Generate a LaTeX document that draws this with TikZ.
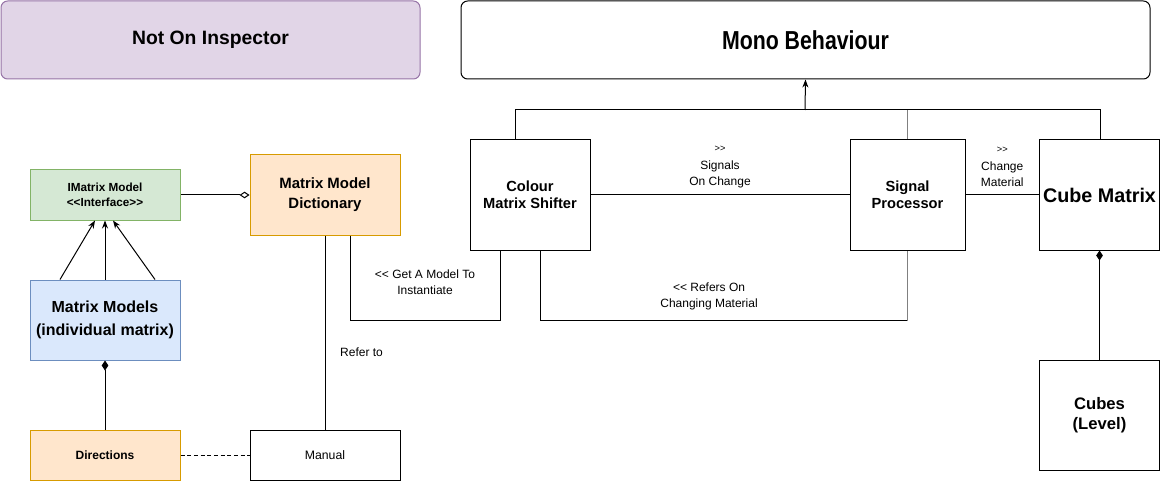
\documentclass[tikz,border=0pt]{standalone}
\usepackage{fontspec}
\setmainfont{Liberation Sans}
\newfontfamily\narrowsans[FakeStretch=0.82]{Liberation Sans}
\usetikzlibrary{arrows.meta,calc}
\definecolor{purplefill}{HTML}{E1D5E7}
\definecolor{purpleline}{HTML}{9673A6}
\definecolor{greenfill}{HTML}{D5E8D4}
\definecolor{greenline}{HTML}{82B366}
\definecolor{orangefill}{HTML}{FFE6CC}
\definecolor{orangeline}{HTML}{D79B00}
\definecolor{bluefill}{HTML}{DAE8FC}
\definecolor{blueline}{HTML}{6C8EBF}
\definecolor{linegray}{HTML}{808080}

\begin{document}
\begin{tikzpicture}[x=0.75pt,y=-0.75pt,line width=0.75pt,
    box/.style={draw, align=center, inner sep=1pt, font=\bfseries},
    lbl/.style={align=center, inner sep=0pt, font=\fontsize{9}{12}\selectfont},
    inherit/.style={-{Stealth[length=6pt,width=4.5pt]}},
    holds/.style={{Diamond[open,length=7.5pt,width=5pt]}-},
    owns/.style={{Diamond[length=7.5pt,width=5pt]}-}]
  \useasboundingbox (0,0) rectangle (1160,481);

  \node[box, rounded corners=5pt, fill=purplefill, draw=purpleline, minimum width=314.25pt, minimum height=58.5pt,
        font=\bfseries\fontsize{14.5}{17}\selectfont] (inspector) at (210.5,40) {Not On Inspector};
  \node[box, rounded corners=5pt, minimum width=516.75pt, minimum height=58.5pt,
        font=\narrowsans\bfseries\fontsize{19.5}{22}\selectfont] (mono) at (805.5,40) {Mono Behaviour};

  \node[box, minimum width=90pt, minimum height=82.5pt, font=\bfseries\fontsize{11}{13}\selectfont]
        (shifter) at (530,195) {Colour\\Matrix Shifter};
  \node[box, minimum width=86.25pt, minimum height=82.5pt, font=\bfseries\fontsize{11}{13}\selectfont]
        (signal) at (907.5,195) {Signal\\Processor};
  \node[box, minimum width=90pt, minimum height=82.5pt, font=\bfseries\fontsize{14.8}{17}\selectfont]
        (cube) at (1099.5,195) {Cube Matrix};
  \node[box, minimum width=90pt, minimum height=82.5pt, font=\bfseries\fontsize{12.5}{15}\selectfont]
        (cubes) at (1099.5,415) {Cubes\\(Level)};

  \node[box, fill=greenfill, draw=greenline, minimum width=112.5pt, minimum height=37.5pt,
        font=\bfseries\fontsize{8.8}{11.5}\selectfont] (imodel) at (105,195) {IMatrix Model\\{<}{<}Interface{>}{>}};
  \node[box, fill=orangefill, draw=orangeline, minimum width=112.5pt, minimum height=60pt,
        font=\bfseries\fontsize{11.2}{15}\selectfont] (dict) at (325,195) {Matrix Model\\Dictionary};
  \node[box, fill=bluefill, draw=blueline, minimum width=112.5pt, minimum height=60pt,
        font=\bfseries\fontsize{12}{17}\selectfont] (models) at (105,320) {Matrix Models\\(individual matrix)};
  \node[box, fill=orangefill, draw=orangeline, minimum width=112.5pt, minimum height=37.5pt,
        font=\bfseries\fontsize{9}{11}\selectfont] (dirs) at (105,455) {Directions};
  \node[box, minimum width=112.5pt, minimum height=37.5pt,
        font=\fontsize{9.2}{11}\selectfont] (manual) at (325,455) {Manual};

  \coordinate (busL) at (515,110);
  \coordinate (busM) at (805,110);
  \coordinate (busR) at (1100,110);
  \draw (shifter.north -| busL) -- (busL) -- (busR) -- (cube.north -| busR);
  \draw[linegray] (signal.north) -- (signal.north |- busL);
  \draw[-{Stealth[length=6pt,width=4.5pt]}] (busM) -- (mono.south);

  \draw (shifter.east) -- node[lbl, yshift=21pt] {{\fontsize{7}{8}\selectfont{>}{>}}\\[1pt]Signals\\On Change} (signal.west);
  \draw (signal.east) -- node[lbl, yshift=21pt] {{\fontsize{7}{8}\selectfont{>}{>}}\\[1pt]Change\\Material} (cube.west);

  \draw[holds] (dict.west) -- (imodel.east);
  \foreach \a/\b in {-45/-10, 0/0, 50/8}{
    \draw[inherit] ($(models.north)+(\a,0)$) -- ($(imodel.south)+(\b,0)$);
  }
  \draw[owns] (models.south) -- (dirs.north);
  \draw[dashed, dash pattern=on 3pt off 2pt] (dirs.east) -- (manual.west);
  \draw (dict.south) -- node[lbl, pos=0.6, right=11pt] {Refer to} (manual.north);

  \draw ($(dict.south)+(25,0)$) |- node[lbl, pos=0.75, yshift=29pt] {{<}{<} Get A Model To\\Instantiate}
        ($(shifter.south)+(-30,70)$) -- ($(shifter.south)+(-30,0)$);
  \draw ($(shifter.south)+(10,0)$) |- node[lbl, pos=0.73, yshift=18pt] {{<}{<} Refers On\\Changing Material}
        ($(signal.south)+(0,70)$);
  \draw[linegray] ($(signal.south)+(0,70)$) -- (signal.south);

  \draw[owns] (cube.south) -- (cubes.north);
\end{tikzpicture}
\end{document}
